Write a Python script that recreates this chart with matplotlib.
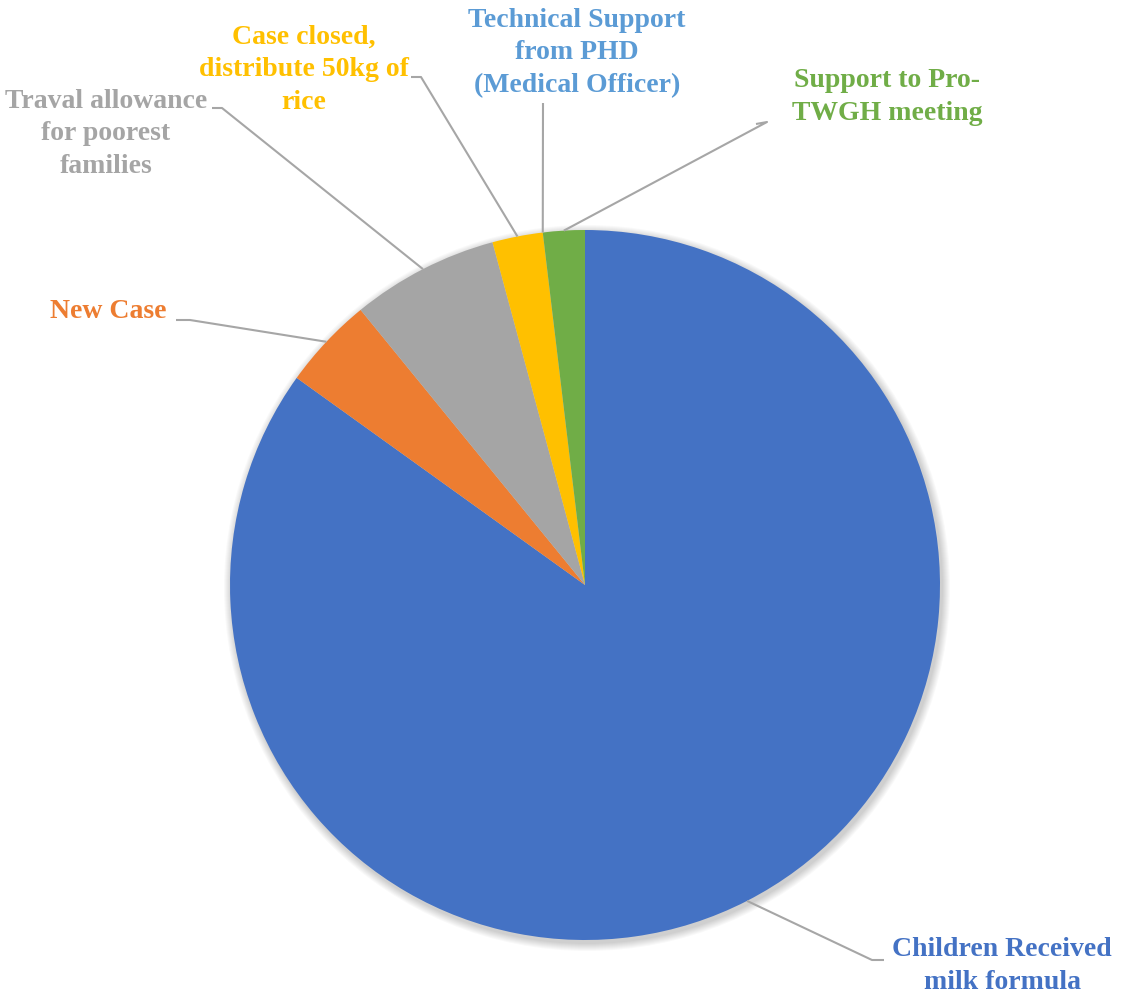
import numpy as np
import matplotlib
matplotlib.use('Agg')
import matplotlib.pyplot as plt
from matplotlib.patches import Circle

#slice data, clockwise from 12 o'clock
categories = ['Children Received\nmilk formula', 'New Case', 'Traval allowance\nfor poorest\nfamilies',
              'Case closed,\ndistribute 50kg of\nrice', 'Technical Support\nfrom PHD\n(Medical Officer)',
              'Support to Pro-\nTWGH meeting']
values = [85.0, 4.2, 6.7, 2.3, 0.0, 1.9]
colors = ['#4472C4', '#ED7D31', '#A5A5A5', '#FFC000', '#5B9BD5', '#70AD47']

#label layout in pixel coords (y down): text centre, elbow start, elbow end
label_pos = [(1002, 966), (108, 312), (106, 134), (304, 70), (577, 53), (887, 97)]
elbows = [((872, 960), (884, 960)), ((190, 320), (176, 320)), ((222, 108), (212, 108)),
          ((421, 77), (411, 77)), ((543, 103), (543, 103)), ((767, 122), (756, 124))]

W, H = 1126, 1000
cx, cy, r = 585, 585, 355

fig = plt.figure(figsize=(W / 100.0, H / 100.0), dpi=100)
ax = fig.add_axes([0, 0, 1, 1])
ax.set_xlim(0, W)
ax.set_ylim(0, H)
ax.set_aspect('equal')
ax.axis('off')

#soft shadow behind the pie
for i in range(8):
    ax.add_patch(Circle((cx + 2, H - cy - 3), r + 8 - i, facecolor='black', edgecolor='none', alpha=0.025, zorder=1))

wedges, _ = ax.pie(values, colors=colors, startangle=90, counterclock=False, radius=r,
                   center=(cx, H - cy), wedgeprops={'linewidth': 0, 'zorder': 2})
ax.set_xlim(0, W)
ax.set_ylim(0, H)

for w, label, col, (tx, ty), (e1, e2) in zip(wedges, categories, colors, label_pos, elbows):
    mid = np.deg2rad((w.theta1 + w.theta2) / 2.0)
    px = cx + r * np.cos(mid)
    py = (H - cy) + r * np.sin(mid)
    xs = [px, e1[0], e2[0]]
    ys = [py, H - e1[1], H - e2[1]]
    ax.plot(xs, ys, color='#A6A6A6', linewidth=1.5, zorder=3, solid_capstyle='butt')
    ax.text(tx, H - ty, label, color=col, fontsize=20, fontweight='bold', family='Liberation Serif',
            ha='center', va='center', multialignment='center', linespacing=1.4, zorder=4)

plt.savefig('out.png', dpi=100)
plt.close()
